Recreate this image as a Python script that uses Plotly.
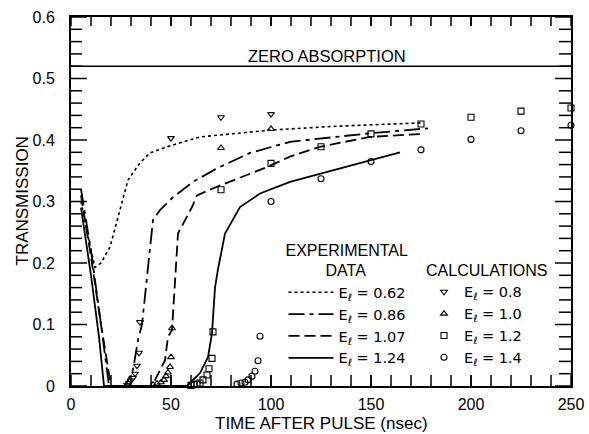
import plotly.graph_objects as go

# ---------------- data ----------------
ZERO_ABS = 0.52

exp_labels = ["E<sub>ℓ</sub> = 0.62", "E<sub>ℓ</sub> = 0.86", "E<sub>ℓ</sub> = 1.07", "E<sub>ℓ</sub> = 1.24"]

x_062 = [5, 8, 12, 15, 19.5, 23, 28.5, 34.5, 39.5, 48, 64.5, 99.5, 130, 176]
y_062 = [0.30, 0.25, 0.193, 0.20, 0.226, 0.27, 0.335, 0.363, 0.379, 0.389, 0.405, 0.416, 0.422, 0.428]

x_086 = [5, 10, 15, 19, 27, 31, 33.5, 35.5, 41, 44.5, 51, 61, 73, 89.5, 109.5, 149.5, 178.5]
y_086 = [0.32, 0.22, 0.10, 0.0, 0.0, 0.026, 0.075, 0.10, 0.27, 0.286, 0.307, 0.332, 0.354, 0.379, 0.397, 0.411, 0.419]

x_107 = [5, 10, 15, 20, 40.5, 47, 48.5, 50.5, 53.5, 60.5, 63, 73, 98, 109.5, 124.5, 149.5, 176]
y_107 = [0.31, 0.21, 0.10, 0.0, 0.0, 0.042, 0.08, 0.091, 0.248, 0.291, 0.31, 0.324, 0.356, 0.373, 0.389, 0.405, 0.41]

x_124 = [5, 10, 14, 16.5, 58, 64.5, 68.5, 70.5, 72, 73.5, 77, 84.5, 94.5, 109.5, 149.5, 164.5]
y_124 = [0.29, 0.18, 0.08, 0.0, 0.0, 0.021, 0.047, 0.086, 0.16, 0.19, 0.248, 0.291, 0.313, 0.332, 0.367, 0.38]

calc_labels = ["E<sub>ℓ</sub> = 0.8", "E<sub>ℓ</sub> = 1.0", "E<sub>ℓ</sub> = 1.2", "E<sub>ℓ</sub> = 1.4"]

cx_08 = [28, 29, 30, 31, 32, 33, 34, 34.5, 50, 75, 100]
cy_08 = [0.002, 0.005, 0.009, 0.013, 0.02, 0.033, 0.054, 0.104, 0.403, 0.437, 0.442]

cx_10 = [41, 43, 45, 46.5, 47.5, 48.5, 49.5, 50, 50.5, 75, 100]
cy_10 = [0.002, 0.004, 0.006, 0.01, 0.016, 0.022, 0.031, 0.047, 0.094, 0.387, 0.418]

cx_12 = [60, 61.5, 63, 64.5, 66, 68, 69, 70.5, 71, 75, 100, 125, 150, 175, 200, 225, 250]
cy_12 = [0.001, 0.002, 0.003, 0.005, 0.01, 0.018, 0.028, 0.045, 0.088, 0.319, 0.362, 0.389, 0.41, 0.426, 0.437, 0.447, 0.452]

cx_14 = [83, 85, 87, 88.5, 90.5, 92, 93.5, 94.5, 100, 125, 150, 175, 200, 225, 250]
cy_14 = [0.003, 0.005, 0.006, 0.01, 0.016, 0.024, 0.041, 0.081, 0.30, 0.337, 0.365, 0.384, 0.401, 0.415, 0.424]

x_major = [0, 50, 100, 150, 200, 250]
x_minor = list(range(10, 250, 10))
y_major = [0, 0.1, 0.2, 0.3, 0.4, 0.5, 0.6]
y_major_text = ["0", "0.1", "0.2", "0.3", "0.4", "0.5", "0.6"]
y_minor = [round(0.02 * i, 2) for i in range(1, 30) if i % 5 != 0]

X_RANGE = [0, 250]
Y_RANGE = [0, 0.6]

# ---------------- figure ----------------
FONT = "Liberation Sans, Arial, sans-serif"
LFONT = "DejaVu Sans, Liberation Sans, sans-serif"
W, H = 589, 434
M = dict(l=71, r=18, t=17, b=48)
plot_w = W - M["l"] - M["r"]
plot_h = H - M["t"] - M["b"]
px_x = (X_RANGE[1] - X_RANGE[0]) / plot_w   # data units per pixel, x
px_y = (Y_RANGE[1] - Y_RANGE[0]) / plot_h   # data units per pixel, y

fig = go.Figure()

exp_series = [(x_062, y_062, "dot", 1.6), (x_086, y_086, "16px,5px,4px,5px", 1.8),
              (x_107, y_107, "11px,5px", 1.8), (x_124, y_124, "solid", 1.8)]
for (xs, ys, dash, w), lab in zip(exp_series, exp_labels):
    fig.add_trace(go.Scatter(x=xs, y=ys, mode="lines", name=lab, legend="legend",
                             line=dict(color="black", width=w, dash=dash)))

calc_series = [(cx_08, cy_08, "triangle-down-open"), (cx_10, cy_10, "triangle-up-open"),
               (cx_12, cy_12, "square-open"), (cx_14, cy_14, "circle-open")]
for (xs, ys, sym), lab in zip(calc_series, calc_labels):
    fig.add_trace(go.Scatter(x=xs, y=ys, mode="markers", name=lab, legend="legend2",
                             marker=dict(symbol=sym, size=6, color="black",
                                         line=dict(width=1.1, color="black")),
                             cliponaxis=False))

# inward tick marks as data-referenced line shapes on the tick values
TK = dict(color="black", width=1.5)
for v in x_major + x_minor:
    fig.add_shape(type="line", xref="x", yref="y", x0=v, x1=v,
                  y0=Y_RANGE[0], y1=Y_RANGE[0] + 11 * px_y, line=TK)
    fig.add_shape(type="line", xref="x", yref="y", x0=v, x1=v,
                  y0=Y_RANGE[1], y1=Y_RANGE[1] - 9 * px_y, line=TK)
for vals, ll, rl in [(y_major, 16, 16), (y_minor, 11, 12)]:
    for v in vals:
        fig.add_shape(type="line", xref="x", yref="y", y0=v, y1=v,
                      x0=X_RANGE[0], x1=X_RANGE[0] + ll * px_x, line=TK)
        fig.add_shape(type="line", xref="x", yref="y", y0=v, y1=v,
                      x0=X_RANGE[1], x1=X_RANGE[1] - rl * px_x, line=TK)

fig.add_shape(type="line", xref="x", yref="y", x0=X_RANGE[0], x1=X_RANGE[1], y0=ZERO_ABS, y1=ZERO_ABS,
              line=dict(color="black", width=1.5))
fig.add_annotation(x=128, y=ZERO_ABS, xref="x", yref="y", text="ZERO ABSORPTION",
                   showarrow=False, yanchor="bottom", yshift=-1,
                   font=dict(size=16.5, color="black", family=FONT))

# axis titles
fig.add_annotation(x=0.5, y=0, xref="paper", yref="paper", text="TIME AFTER PULSE (nsec)",
                   showarrow=False, yanchor="middle", yshift=-37,
                   font=dict(size=17, color="black", family=FONT))
fig.add_annotation(x=0, y=0.5, xref="paper", yref="paper", text="TRANSMISSION", textangle=-90,
                   showarrow=False, xanchor="center", xshift=-49,
                   font=dict(size=17, color="black", family=FONT))

NB = "\u00a0"
fig.update_layout(
    width=W, height=H,
    margin=dict(**M, autoexpand=False),
    paper_bgcolor="white", plot_bgcolor="white",
    font=dict(family=FONT, size=16, color="black"),
    legend=dict(x=0.425, y=0.41, xanchor="left", yanchor="top",
                bgcolor="rgba(0,0,0,0)", font=dict(size=14.5, family=LFONT),
                title=dict(text="EXPERIMENTAL<br>" + NB * 9 + "DATA", side="top",
                           font=dict(size=16, family=FONT)),
                itemwidth=45, tracegroupgap=0),
    legend2=dict(x=0.706, y=0.355, xanchor="left", yanchor="top",
                 bgcolor="rgba(0,0,0,0)", font=dict(size=14.5, family=LFONT),
                 title=dict(text="CALCULATIONS", side="top", font=dict(size=16, family=FONT)),
                 itemwidth=30, tracegroupgap=0),
)
fig.update_xaxes(range=X_RANGE, tickvals=x_major, ticks="", ticklabelstandoff=3,
                 showline=True, linecolor="black", linewidth=2, mirror=True,
                 showgrid=False, zeroline=False, tickfont=dict(size=16))
fig.update_yaxes(range=Y_RANGE, tickvals=y_major, ticktext=y_major_text, ticks="",
                 ticklabelstandoff=11,
                 showline=True, linecolor="black", linewidth=2, mirror=True,
                 showgrid=False, zeroline=False, tickfont=dict(size=16))

fig.write_html("out.html")
